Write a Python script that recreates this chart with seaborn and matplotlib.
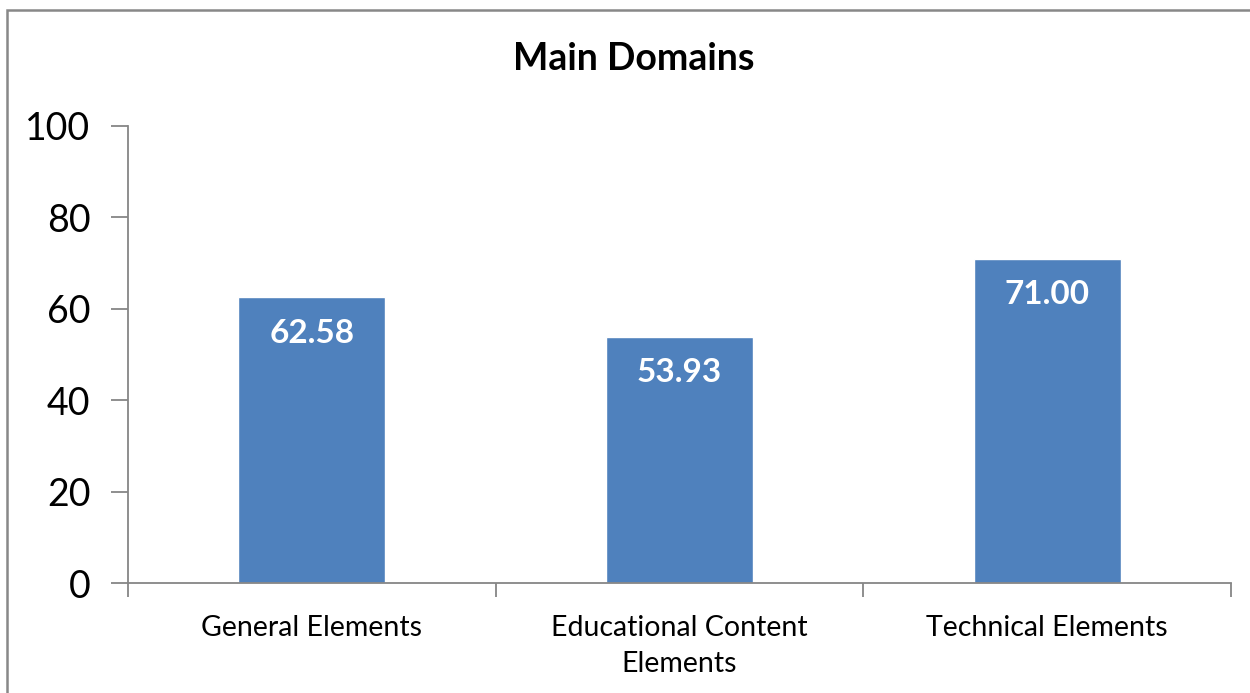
import matplotlib
matplotlib.use("Agg")
import matplotlib.pyplot as plt
import seaborn as sns
import pandas as pd
from matplotlib.patches import Rectangle

categories = ["General Elements", "Educational Content\nElements", "Technical Elements"]
values = [62.58, 53.93, 71.00]
yticks = [0, 20, 40, 60, 80, 100]

sns.set_style("white")
plt.rcParams['font.family'] = ['Lato', 'DejaVu Sans']
plt.rcParams['text.color'] = 'black'
plt.rcParams['xtick.color'] = 'black'
plt.rcParams['ytick.color'] = 'black'

df = pd.DataFrame({"cat": categories, "val": values})

fig = plt.figure(figsize=(12.5, 6.93), dpi=100)
ax = fig.add_axes([128/1250, 1-583/693, (1231-128)/1250, (583-126)/693])
sns.barplot(data=df, x="cat", y="val", color="#4F81BD", saturation=1, width=0.4, ax=ax)

gray = "#868686"
ax.set_ylim(0, 100)
ax.set_xlim(-0.5, 2.5)
ax.set_yticks(yticks)
ax.set_yticklabels([str(t) for t in yticks], fontsize=27)
ax.set_xticks([-0.5, 0.5, 1.5, 2.5], minor=False)
ax.set_xticklabels([])
ax.set_xticks([0, 1, 2], minor=True)
ax.set_xticklabels(categories, minor=True, fontsize=20.5, linespacing=1.5)
ax.tick_params(axis='x', which='major', bottom=True, direction='out', length=10, width=1.3, color=gray)
ax.tick_params(axis='x', which='minor', bottom=True, length=0, pad=23, labelcolor='black')
ax.tick_params(axis='y', left=True, direction='out', length=12, width=1.3, color=gray, pad=15, labelcolor='black')
ax.set_xlabel("")
ax.set_ylabel("")
for s in ["top", "right"]:
    ax.spines[s].set_visible(False)
for s in ["left", "bottom"]:
    ax.spines[s].set_color(gray)
    ax.spines[s].set_linewidth(1.3)

for i, v in enumerate(values):
    ax.annotate(f"{v:.2f}", xy=(i, v), xytext=(0, -36), textcoords="offset pixels",
                ha="center", va="center", color="white", fontsize=24, fontweight="bold")

fig.text(634/1250, 1-59/693, "Main Domains", ha="center", va="center", fontsize=27, fontweight="bold",
         color="black")

fig.patches.append(Rectangle((7/1250, -0.1), 1.2, 1-10/693+0.1, transform=fig.transFigure,
                             fill=False, edgecolor="#888888", linewidth=1.8, figure=fig))

fig.savefig("out.png", dpi=100)
